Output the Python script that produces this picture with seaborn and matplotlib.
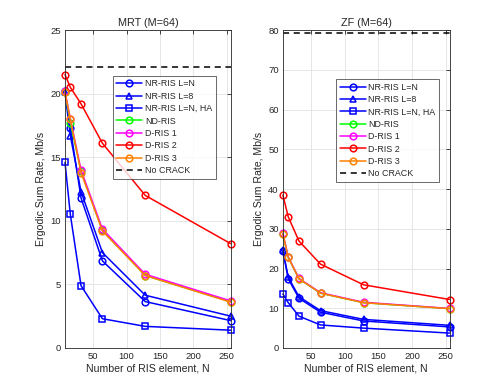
import numpy as np
import pandas as pd
import matplotlib
matplotlib.use("Agg")
import matplotlib.pyplot as plt
import seaborn as sns

# number of RIS elements
N = [8, 16, 32, 64, 128, 256]

# MRT (M=64)
mrt_nr_ln = [20.2, 17.3, 11.8, 6.85, 3.65, 2.15]
mrt_nr_l8 = [20.1, 16.7, 12.3, 7.5, 4.15, 2.5]
mrt_nr_ha = [14.6, 10.5, 4.9, 2.3, 1.7, 1.4]
mrt_nd = [20.1, 17.7, 13.9, 9.25, 5.7, 3.65]
mrt_d1 = [20.2, 18.0, 14.0, 9.35, 5.8, 3.7]
mrt_d2 = [21.5, 20.5, 19.2, 16.1, 12.0, 8.2]
mrt_d3 = [20.1, 18.0, 13.8, 9.2, 5.7, 3.6]
mrt_nocrack = 22.1

# ZF (M=64)
zf_nr_ln = [24.4, 17.4, 12.5, 9.0, 6.8, 5.3]
zf_nr_l8 = [24.7, 17.8, 12.9, 9.4, 7.2, 5.7]
zf_nr_ha = [13.6, 11.4, 8.0, 5.8, 5.0, 3.75]
zf_nd = [28.6, 22.8, 17.4, 13.8, 11.4, 9.9]
zf_d1 = [28.9, 22.9, 17.5, 13.9, 11.5, 9.95]
zf_d2 = [38.5, 33.0, 26.9, 21.1, 15.9, 12.2]
zf_d3 = [28.7, 22.8, 17.4, 13.8, 11.4, 9.9]
zf_nocrack = 79.2

labels = ["NR-RIS L=N", "NR-RIS L=8", "NR-RIS L=N, HA",
          "ND-RIS", "D-RIS 1", "D-RIS 2", "D-RIS 3"]
colors = ["#0000ff", "#0000ff", "#0000ff", "#00ff00", "#ff00ff", "#ff0000", "#ff8000"]
markers = ["o", "^", "s", "o", "o", "o", "o"]

sns.set_style("white")
plt.rcParams["font.family"] = ["Liberation Sans", "DejaVu Sans"]

fig = plt.figure(figsize=(4.98, 3.91), dpi=100)
ax1 = fig.add_axes([0.1305, 0.11, 0.333, 0.813])
ax2 = fig.add_axes([0.568, 0.11, 0.335, 0.813])

panels = [
    (ax1, "MRT (M=64)", [mrt_nr_ln, mrt_nr_l8, mrt_nr_ha, mrt_nd, mrt_d1, mrt_d2, mrt_d3],
     mrt_nocrack, (0, 25), np.arange(0, 26, 5), (0.908, 0.856)),
    (ax2, "ZF (M=64)", [zf_nr_ln, zf_nr_l8, zf_nr_ha, zf_nd, zf_d1, zf_d2, zf_d3],
     zf_nocrack, (0, 80), np.arange(0, 81, 10), (0.936, 0.846)),
]

for ax, title, series, nocrack, ylim, yticks, anchor in panels:
    for vals, lab, c, m in zip(series, labels, colors, markers):
        df = pd.DataFrame({"N": N, "rate": vals})
        sns.lineplot(data=df, x="N", y="rate", ax=ax, color=c, marker=m,
                     markersize=4.8, markerfacecolor="none", markeredgecolor=c,
                     markeredgewidth=1.1, linewidth=1.1, label=lab, clip_on=False)
    ax.axhline(nocrack, color="black", linestyle="--", linewidth=1.1,
               dashes=(4, 3), label="No CRACK")
    ax.set_xlim(8, 256)
    ax.set_ylim(*ylim)
    ax.set_xticks([50, 100, 150, 200, 250])
    ax.set_yticks(yticks)
    ax.grid(True, color="#e6e6e6", linewidth=0.7)
    ax.set_axisbelow(True)
    ax.set_title(title, fontsize=7.8, pad=3, color="#262626")
    ax.set_xlabel("Number of RIS element, N", fontsize=7.6, color="#262626", labelpad=2)
    ax.set_ylabel("Ergodic Sum Rate, Mb/s", fontsize=7.6, color="#262626", labelpad=3)
    ax.tick_params(direction="in", length=3, width=0.6, labelsize=6.8,
                   top=True, right=True, colors="#262626", pad=3)
    for sp in ax.spines.values():
        sp.set_color("#262626")
        sp.set_linewidth(0.6)
    leg = ax.legend(loc="upper right", bbox_to_anchor=anchor, fontsize=6.4,
                    frameon=True, fancybox=False, edgecolor="#262626",
                    handlelength=2.9, labelspacing=0.38, borderpad=0.4,
                    handletextpad=0.3, borderaxespad=0)
    leg.get_frame().set_linewidth(0.6)

fig.savefig("out.png", dpi=100)
